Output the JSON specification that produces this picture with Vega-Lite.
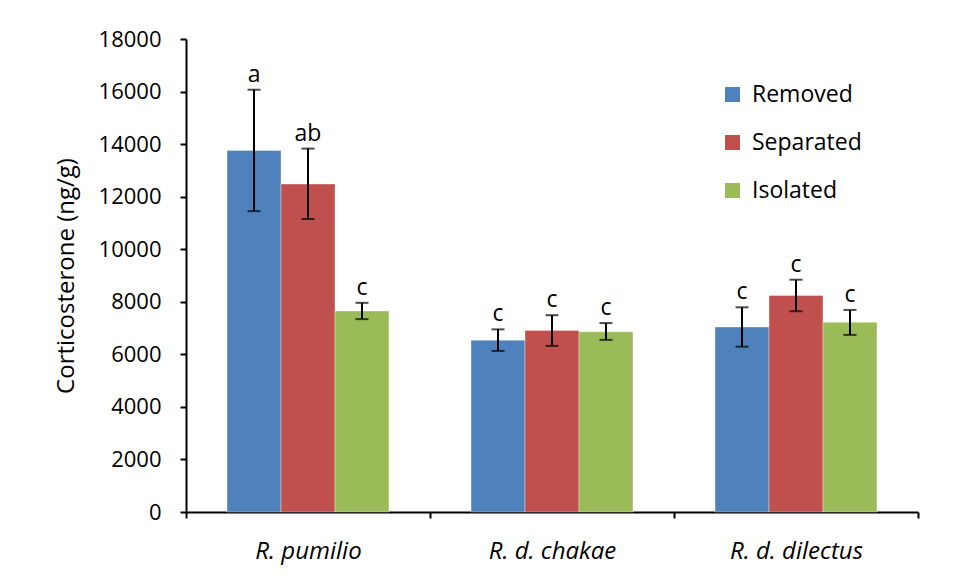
{
  "$schema": "https://vega.github.io/schema/vega-lite/v6.json",
  "width": 732,
  "height": 473,
  "autosize": {"type": "none"},
  "padding": {"left": 186, "top": 39, "right": 39, "bottom": 69},
  "background": "white",
  "config": {
    "view": {"stroke": null},
    "font": "Open Sans"
  },
  "data": {
    "values": [
      {"species": "R. pumilio", "group": "Removed", "mean": 13760, "lo": 11450, "hi": 16070, "letter": "a"},
      {"species": "R. pumilio", "group": "Separated", "mean": 12480, "lo": 11150, "hi": 13830, "letter": "ab"},
      {"species": "R. pumilio", "group": "Isolated", "mean": 7650, "lo": 7340, "hi": 7960, "letter": "c"},
      {"species": "R. d. chakae", "group": "Removed", "mean": 6540, "lo": 6130, "hi": 6950, "letter": "c"},
      {"species": "R. d. chakae", "group": "Separated", "mean": 6910, "lo": 6320, "hi": 7490, "letter": "c"},
      {"species": "R. d. chakae", "group": "Isolated", "mean": 6860, "lo": 6550, "hi": 7190, "letter": "c"},
      {"species": "R. d. dilectus", "group": "Removed", "mean": 7040, "lo": 6290, "hi": 7790, "letter": "c"},
      {"species": "R. d. dilectus", "group": "Separated", "mean": 8240, "lo": 7640, "hi": 8840, "letter": "c"},
      {"species": "R. d. dilectus", "group": "Isolated", "mean": 7220, "lo": 6740, "hi": 7690, "letter": "c"}
    ]
  },
  "encoding": {
    "x": {
      "field": "species",
      "type": "nominal",
      "sort": null,
      "scale": {"paddingInner": 0, "paddingOuter": 0},
      "axis": {
        "title": null,
        "labelAngle": 0,
        "labelFont": "Open Sans",
        "labelFontSize": 24,
        "labelFontStyle": "italic",
        "labelColor": "black",
        "labelPadding": 21,
        "domainColor": "black",
        "domainWidth": 2,
        "tickColor": "black",
        "tickWidth": 2,
        "tickSize": 6,
        "tickBand": "extent"
      }
    },
    "xOffset": {
      "field": "group",
      "type": "nominal",
      "sort": ["Removed", "Separated", "Isolated"],
      "scale": {"paddingInner": 0, "paddingOuter": 0.76}
    }
  },
  "layer": [
    {
      "mark": {"type": "bar", "stroke": "white", "strokeOpacity": 0.35, "strokeWidth": 1},
      "encoding": {
        "y": {
          "field": "mean",
          "type": "quantitative",
          "scale": {"domain": [0, 18000], "nice": false},
          "axis": {
            "title": "Corticosterone (ng/g)",
            "titleFont": "Open Sans",
            "titleFontSize": 24,
            "titleFontWeight": "normal",
            "titleColor": "black",
            "titlePadding": 20,
            "values": [0, 2000, 4000, 6000, 8000, 10000, 12000, 14000, 16000, 18000],
            "format": "d",
            "grid": false,
            "labelFont": "Open Sans",
            "labelFontSize": 22,
            "labelColor": "black",
            "labelPadding": 19,
            "domainColor": "black",
            "domainWidth": 2,
            "tickColor": "black",
            "tickWidth": 2,
            "tickSize": 6
          }
        },
        "color": {
          "field": "group",
          "type": "nominal",
          "sort": ["Removed", "Separated", "Isolated"],
          "scale": {"domain": ["Removed", "Separated", "Isolated"], "range": ["#4F81BD", "#C0504D", "#9BBB59"]},
          "legend": {
            "title": null,
            "orient": "none",
            "legendX": 535,
            "legendY": 44,
            "symbolType": "square",
            "symbolSize": 225,
            "symbolStrokeWidth": 0,
            "labelFont": "Open Sans",
            "labelFontSize": 23,
            "labelColor": "black",
            "labelOffset": 8,
            "rowPadding": 24
          }
        }
      }
    },
    {
      "mark": {"type": "rule", "color": "black", "strokeWidth": 2},
      "encoding": {
        "y": {"field": "lo", "type": "quantitative"},
        "y2": {"field": "hi"}
      }
    },
    {
      "mark": {"type": "tick", "color": "black", "thickness": 2, "size": 13, "orient": "horizontal"},
      "encoding": {
        "y": {"field": "lo", "type": "quantitative"}
      }
    },
    {
      "mark": {"type": "tick", "color": "black", "thickness": 2, "size": 13, "orient": "horizontal"},
      "encoding": {
        "y": {"field": "hi", "type": "quantitative"}
      }
    },
    {
      "mark": {"type": "text", "baseline": "bottom", "dy": -3, "fontSize": 23, "font": "Open Sans", "color": "black"},
      "encoding": {
        "y": {"field": "hi", "type": "quantitative"},
        "text": {"field": "letter"}
      }
    }
  ]
}
